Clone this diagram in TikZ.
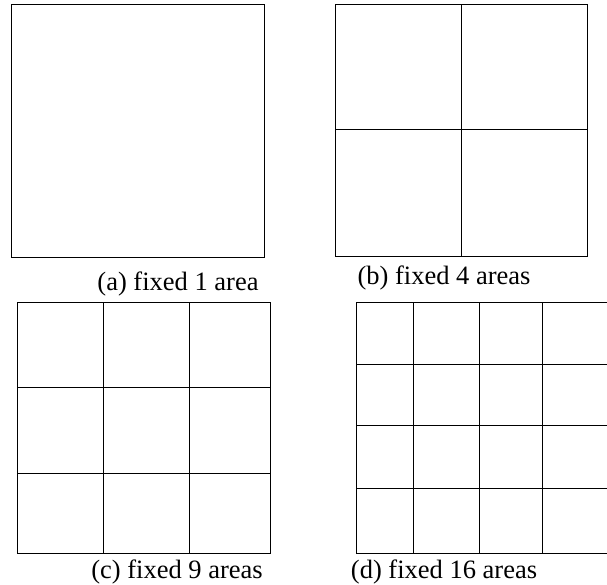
\documentclass[tikz,border=0pt]{standalone}
\usepackage{fontspec}
\setmainfont{Liberation Serif}
\begin{document}
\begin{tikzpicture}[x=1pt,y=-1pt,
  gridline/.style={draw=black,line width=1pt},
  caption/.style={anchor=base,inner sep=0pt,font=\fontsize{26.5}{30}\selectfont}]
\useasboundingbox (0,0) rectangle (607,585);
% (a)
\draw[gridline] (11,5) rectangle (264,257);
\node[caption] (ca) at (178,290) {(a) fixed 1 area};
% (b)
\draw[gridline] (335,5) rectangle (587,256);
\draw[gridline] (461,5) -- (461,256);
\draw[gridline] (335,130) -- (587,130);
\node[caption] (cb) at (444,284) {(b) fixed 4 areas};
% (c)
\draw[gridline] (17,302) rectangle (270,553);
\draw[gridline] (103,302) -- (103,553);
\draw[gridline] (189,302) -- (189,553);
\draw[gridline] (17,387) -- (270,387);
\draw[gridline] (17,473) -- (270,473);
\node[caption] (cc) at (177,578) {(c) fixed 9 areas};
% (d)
\draw[gridline] (608,302) -- (356,302) -- (356,553) -- (608,553);
\draw[gridline] (413,302) -- (413,553);
\draw[gridline] (479,302) -- (479,553);
\draw[gridline] (542,302) -- (542,553);
\draw[gridline] (356,364) -- (608,364);
\draw[gridline] (356,425) -- (608,425);
\draw[gridline] (356,488) -- (608,488);
\node[caption] (cd) at (444,578) {(d) fixed 16 areas};
\end{tikzpicture}
\end{document}
